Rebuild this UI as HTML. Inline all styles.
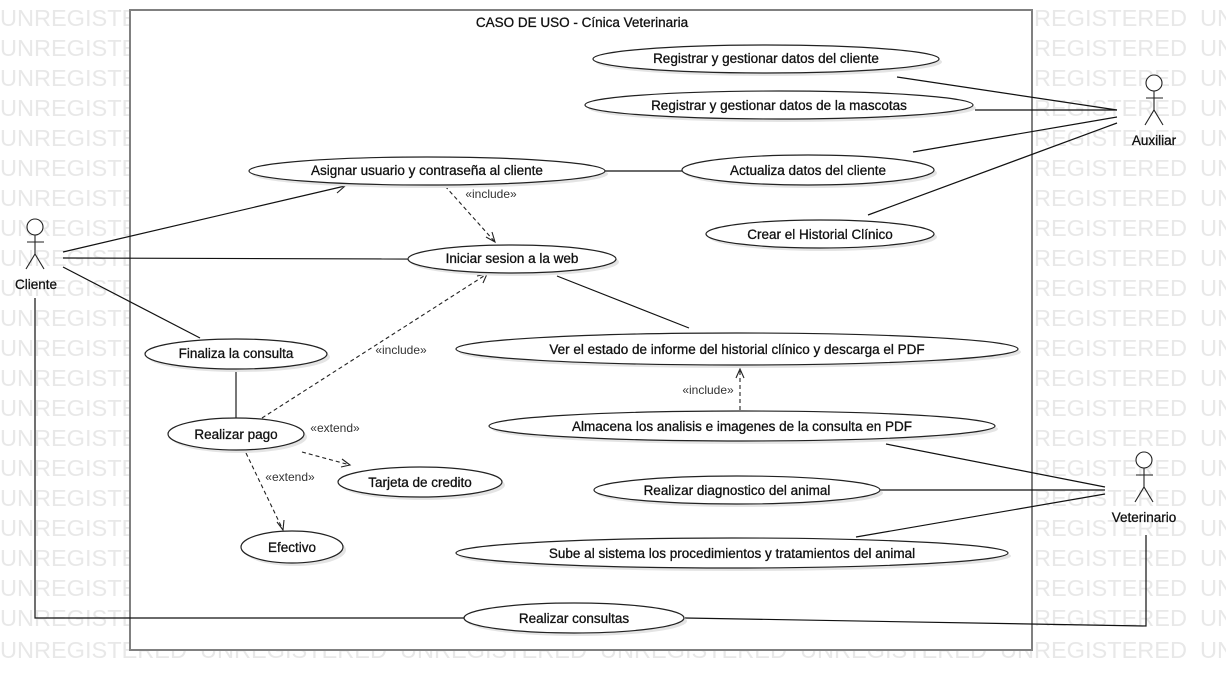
<!DOCTYPE html>
<html><head><meta charset="utf-8"><style>
html,body{margin:0;padding:0;background:#fff;}
svg{display:block;}
.wm{font-family:"Liberation Sans",sans-serif;font-size:23px;fill:#e8e8e8;}
.t{font-family:"Liberation Sans",sans-serif;font-size:13.5px;fill:#111;text-anchor:middle;stroke:#111;stroke-width:0.3;}
.s{font-family:"Liberation Sans",sans-serif;font-size:12px;fill:#333;text-anchor:middle;}
.e{fill:#fff;stroke:#222;stroke-width:1.2;}
.sh{fill:#e4e4e4;}
.l{stroke:#111;stroke-width:1.2;fill:none;}
.d{stroke:#222;stroke-width:1.1;fill:none;stroke-dasharray:4,3;}
.a{stroke:#222;stroke-width:1.1;fill:none;}
</style></head><body>
<svg width="1226" height="690" viewBox="0 0 1226 690" xmlns="http://www.w3.org/2000/svg">
<g class="wm">
<text x="0" y="26" textLength="187" lengthAdjust="spacingAndGlyphs">UNREGISTERED</text><text x="200" y="26" textLength="187" lengthAdjust="spacingAndGlyphs">UNREGISTERED</text><text x="400" y="26" textLength="187" lengthAdjust="spacingAndGlyphs">UNREGISTERED</text><text x="600" y="26" textLength="187" lengthAdjust="spacingAndGlyphs">UNREGISTERED</text><text x="800" y="26" textLength="187" lengthAdjust="spacingAndGlyphs">UNREGISTERED</text><text x="1000" y="26" textLength="187" lengthAdjust="spacingAndGlyphs">UNREGISTERED</text><text x="1200" y="26" textLength="187" lengthAdjust="spacingAndGlyphs">UNREGISTERED</text>
<text x="0" y="56" textLength="187" lengthAdjust="spacingAndGlyphs">UNREGISTERED</text><text x="1000" y="56" textLength="187" lengthAdjust="spacingAndGlyphs">UNREGISTERED</text><text x="1200" y="56" textLength="187" lengthAdjust="spacingAndGlyphs">UNREGISTERED</text>
<text x="0" y="86" textLength="187" lengthAdjust="spacingAndGlyphs">UNREGISTERED</text><text x="1000" y="86" textLength="187" lengthAdjust="spacingAndGlyphs">UNREGISTERED</text><text x="1200" y="86" textLength="187" lengthAdjust="spacingAndGlyphs">UNREGISTERED</text>
<text x="0" y="116" textLength="187" lengthAdjust="spacingAndGlyphs">UNREGISTERED</text><text x="1000" y="116" textLength="187" lengthAdjust="spacingAndGlyphs">UNREGISTERED</text><text x="1200" y="116" textLength="187" lengthAdjust="spacingAndGlyphs">UNREGISTERED</text>
<text x="0" y="146" textLength="187" lengthAdjust="spacingAndGlyphs">UNREGISTERED</text><text x="1000" y="146" textLength="187" lengthAdjust="spacingAndGlyphs">UNREGISTERED</text><text x="1200" y="146" textLength="187" lengthAdjust="spacingAndGlyphs">UNREGISTERED</text>
<text x="0" y="176" textLength="187" lengthAdjust="spacingAndGlyphs">UNREGISTERED</text><text x="1000" y="176" textLength="187" lengthAdjust="spacingAndGlyphs">UNREGISTERED</text><text x="1200" y="176" textLength="187" lengthAdjust="spacingAndGlyphs">UNREGISTERED</text>
<text x="0" y="206" textLength="187" lengthAdjust="spacingAndGlyphs">UNREGISTERED</text><text x="1000" y="206" textLength="187" lengthAdjust="spacingAndGlyphs">UNREGISTERED</text><text x="1200" y="206" textLength="187" lengthAdjust="spacingAndGlyphs">UNREGISTERED</text>
<text x="0" y="236" textLength="187" lengthAdjust="spacingAndGlyphs">UNREGISTERED</text><text x="1000" y="236" textLength="187" lengthAdjust="spacingAndGlyphs">UNREGISTERED</text><text x="1200" y="236" textLength="187" lengthAdjust="spacingAndGlyphs">UNREGISTERED</text>
<text x="0" y="266" textLength="187" lengthAdjust="spacingAndGlyphs">UNREGISTERED</text><text x="1000" y="266" textLength="187" lengthAdjust="spacingAndGlyphs">UNREGISTERED</text><text x="1200" y="266" textLength="187" lengthAdjust="spacingAndGlyphs">UNREGISTERED</text>
<text x="0" y="296" textLength="187" lengthAdjust="spacingAndGlyphs">UNREGISTERED</text><text x="1000" y="296" textLength="187" lengthAdjust="spacingAndGlyphs">UNREGISTERED</text><text x="1200" y="296" textLength="187" lengthAdjust="spacingAndGlyphs">UNREGISTERED</text>
<text x="0" y="326" textLength="187" lengthAdjust="spacingAndGlyphs">UNREGISTERED</text><text x="1000" y="326" textLength="187" lengthAdjust="spacingAndGlyphs">UNREGISTERED</text><text x="1200" y="326" textLength="187" lengthAdjust="spacingAndGlyphs">UNREGISTERED</text>
<text x="0" y="356" textLength="187" lengthAdjust="spacingAndGlyphs">UNREGISTERED</text><text x="1000" y="356" textLength="187" lengthAdjust="spacingAndGlyphs">UNREGISTERED</text><text x="1200" y="356" textLength="187" lengthAdjust="spacingAndGlyphs">UNREGISTERED</text>
<text x="0" y="386" textLength="187" lengthAdjust="spacingAndGlyphs">UNREGISTERED</text><text x="1000" y="386" textLength="187" lengthAdjust="spacingAndGlyphs">UNREGISTERED</text><text x="1200" y="386" textLength="187" lengthAdjust="spacingAndGlyphs">UNREGISTERED</text>
<text x="0" y="416" textLength="187" lengthAdjust="spacingAndGlyphs">UNREGISTERED</text><text x="1000" y="416" textLength="187" lengthAdjust="spacingAndGlyphs">UNREGISTERED</text><text x="1200" y="416" textLength="187" lengthAdjust="spacingAndGlyphs">UNREGISTERED</text>
<text x="0" y="446" textLength="187" lengthAdjust="spacingAndGlyphs">UNREGISTERED</text><text x="1000" y="446" textLength="187" lengthAdjust="spacingAndGlyphs">UNREGISTERED</text><text x="1200" y="446" textLength="187" lengthAdjust="spacingAndGlyphs">UNREGISTERED</text>
<text x="0" y="476" textLength="187" lengthAdjust="spacingAndGlyphs">UNREGISTERED</text><text x="1000" y="476" textLength="187" lengthAdjust="spacingAndGlyphs">UNREGISTERED</text><text x="1200" y="476" textLength="187" lengthAdjust="spacingAndGlyphs">UNREGISTERED</text>
<text x="0" y="506" textLength="187" lengthAdjust="spacingAndGlyphs">UNREGISTERED</text><text x="1000" y="506" textLength="187" lengthAdjust="spacingAndGlyphs">UNREGISTERED</text><text x="1200" y="506" textLength="187" lengthAdjust="spacingAndGlyphs">UNREGISTERED</text>
<text x="0" y="536" textLength="187" lengthAdjust="spacingAndGlyphs">UNREGISTERED</text><text x="1000" y="536" textLength="187" lengthAdjust="spacingAndGlyphs">UNREGISTERED</text><text x="1200" y="536" textLength="187" lengthAdjust="spacingAndGlyphs">UNREGISTERED</text>
<text x="0" y="566" textLength="187" lengthAdjust="spacingAndGlyphs">UNREGISTERED</text><text x="1000" y="566" textLength="187" lengthAdjust="spacingAndGlyphs">UNREGISTERED</text><text x="1200" y="566" textLength="187" lengthAdjust="spacingAndGlyphs">UNREGISTERED</text>
<text x="0" y="596" textLength="187" lengthAdjust="spacingAndGlyphs">UNREGISTERED</text><text x="1000" y="596" textLength="187" lengthAdjust="spacingAndGlyphs">UNREGISTERED</text><text x="1200" y="596" textLength="187" lengthAdjust="spacingAndGlyphs">UNREGISTERED</text>
<text x="0" y="626" textLength="187" lengthAdjust="spacingAndGlyphs">UNREGISTERED</text><text x="1000" y="626" textLength="187" lengthAdjust="spacingAndGlyphs">UNREGISTERED</text><text x="1200" y="626" textLength="187" lengthAdjust="spacingAndGlyphs">UNREGISTERED</text>
<text x="0" y="658" textLength="187" lengthAdjust="spacingAndGlyphs">UNREGISTERED</text><text x="200" y="658" textLength="187" lengthAdjust="spacingAndGlyphs">UNREGISTERED</text><text x="400" y="658" textLength="187" lengthAdjust="spacingAndGlyphs">UNREGISTERED</text><text x="600" y="658" textLength="187" lengthAdjust="spacingAndGlyphs">UNREGISTERED</text><text x="800" y="658" textLength="187" lengthAdjust="spacingAndGlyphs">UNREGISTERED</text><text x="1000" y="658" textLength="187" lengthAdjust="spacingAndGlyphs">UNREGISTERED</text><text x="1200" y="658" textLength="187" lengthAdjust="spacingAndGlyphs">UNREGISTERED</text>
</g>

<rect x="130" y="10" width="902" height="640" fill="#fff" stroke="#808080" stroke-width="2"/>
<text x="582" y="27" class="t">CASO DE USO - Cínica Veterinaria</text>

<g class="l">
<line x1="63" y1="252" x2="345" y2="186"/>
<line x1="63" y1="258" x2="408" y2="259"/>
<line x1="63" y1="267" x2="200" y2="338"/>
<polyline points="35,298 35,618 464,618"/>
<polyline points="685,618 1146,626 1146,535"/>
<line x1="605" y1="171" x2="682" y2="171"/>
<line x1="557" y1="276" x2="689" y2="328"/>
<line x1="897" y1="77" x2="1117" y2="110"/>
<line x1="975" y1="110" x2="1117" y2="110"/>
<line x1="913" y1="152" x2="1117" y2="117"/>
<line x1="868" y1="215" x2="1117" y2="123"/>
<line x1="886" y1="444" x2="1105" y2="487"/>
<line x1="880" y1="490" x2="1105" y2="490"/>
<line x1="856" y1="537" x2="1105" y2="494"/>
</g>
<line x1="236" y1="369" x2="236" y2="418" stroke="#777" stroke-width="2"/>
<polyline class="a" points="334,183 345,186 337,193"/>
<line class="d" x1="445" y1="186" x2="495" y2="242"/>
<polyline class="a" points="486,237 495,242 492,232"/>
<line class="d" x1="262" y1="418" x2="487" y2="274"/>
<polyline class="a" points="477,276 487,274 483,283"/>
<line class="d" x1="302" y1="452" x2="350" y2="465"/>
<polyline class="a" points="342,459 350,465 341,467"/>
<line class="d" x1="246" y1="453" x2="283" y2="530"/>
<polyline class="a" points="277,522 283,530 284,520"/>
<line class="d" x1="740" y1="410" x2="740" y2="369"/>
<polyline class="a" points="736,378 740,369 744,378"/>

<g class="s">
<text x="491" y="198">«include»</text>
<text x="401" y="354">«include»</text>
<text x="335" y="432">«extend»</text>
<text x="290" y="481">«extend»</text>
<text x="708" y="394">«include»</text>
</g>

<g>
<ellipse class="sh" cx="769" cy="62" rx="173" ry="14"/><ellipse class="e" cx="766" cy="59" rx="173" ry="14"/>
<ellipse class="sh" cx="782" cy="108" rx="194" ry="14"/><ellipse class="e" cx="779" cy="105" rx="194" ry="14"/>
<ellipse class="sh" cx="430" cy="174" rx="178" ry="14"/><ellipse class="e" cx="427" cy="171" rx="178" ry="14"/>
<ellipse class="sh" cx="811" cy="173" rx="126" ry="15"/><ellipse class="e" cx="808" cy="170" rx="126" ry="15"/>
<ellipse class="sh" cx="823" cy="237" rx="114" ry="14"/><ellipse class="e" cx="820" cy="234" rx="114" ry="14"/>
<ellipse class="sh" cx="515" cy="262" rx="104" ry="14"/><ellipse class="e" cx="512" cy="259" rx="104" ry="14"/>
<ellipse class="sh" cx="239" cy="357" rx="91" ry="15"/><ellipse class="e" cx="236" cy="354" rx="91" ry="15"/>
<ellipse class="sh" cx="740" cy="352" rx="281" ry="16"/><ellipse class="e" cx="737" cy="349" rx="281" ry="16"/>
<ellipse class="sh" cx="239" cy="437" rx="68" ry="16"/><ellipse class="e" cx="236" cy="434" rx="68" ry="16"/>
<ellipse class="sh" cx="745" cy="429" rx="253" ry="15"/><ellipse class="e" cx="742" cy="426" rx="253" ry="15"/>
<ellipse class="sh" cx="423" cy="485" rx="82" ry="15"/><ellipse class="e" cx="420" cy="482" rx="82" ry="15"/>
<ellipse class="sh" cx="740" cy="493" rx="143" ry="14"/><ellipse class="e" cx="737" cy="490" rx="143" ry="14"/>
<ellipse class="sh" cx="295" cy="550" rx="51" ry="16"/><ellipse class="e" cx="292" cy="547" rx="51" ry="16"/>
<ellipse class="sh" cx="735" cy="556" rx="276" ry="15"/><ellipse class="e" cx="732" cy="553" rx="276" ry="15"/>
<ellipse class="sh" cx="577" cy="621" rx="110" ry="15"/><ellipse class="e" cx="574" cy="618" rx="110" ry="15"/>
</g>
<g class="t">
<text x="766" y="63">Registrar y gestionar datos del cliente</text>
<text x="779" y="110">Registrar y gestionar datos de la mascotas</text>
<text x="427" y="175">Asignar usuario y contraseña al cliente</text>
<text x="808" y="175">Actualiza datos del cliente</text>
<text x="820" y="239">Crear el Historial Clínico</text>
<text x="512" y="263">Iniciar sesion a la web</text>
<text x="236" y="358">Finaliza la consulta</text>
<text x="737" y="354">Ver el estado de informe del historial clínico y descarga el PDF</text>
<text x="236" y="439">Realizar pago</text>
<text x="742" y="431">Almacena los analisis e imagenes de la consulta en PDF</text>
<text x="420" y="487">Tarjeta de credito</text>
<text x="737" y="495">Realizar diagnostico del animal</text>
<text x="292" y="552">Efectivo</text>
<text x="732" y="558">Sube al sistema los procedimientos y tratamientos del animal</text>
<text x="574" y="623">Realizar consultas</text>
</g>

<g class="a" stroke-width="1.2">
<circle cx="35" cy="227" r="8" fill="#fff"/>
<line x1="35" y1="235" x2="35" y2="254"/><line x1="27" y1="242" x2="44" y2="242"/>
<polyline points="26,269 35,254 44,269"/>
<circle cx="1154" cy="83" r="8" fill="#fff"/>
<line x1="1154" y1="91" x2="1154" y2="110"/><line x1="1146" y1="98" x2="1163" y2="98"/>
<polyline points="1145,125 1154,110 1163,125"/>
<circle cx="1144" cy="460" r="8" fill="#fff"/>
<line x1="1144" y1="468" x2="1144" y2="487"/><line x1="1136" y1="475" x2="1153" y2="475"/>
<polyline points="1135,502 1144,487 1153,502"/>
</g>
<g class="t">
<text x="36" y="289">Cliente</text>
<text x="1154" y="145">Auxiliar</text>
<text x="1144" y="522">Veterinario</text>
</g>
</svg>
</body></html>
